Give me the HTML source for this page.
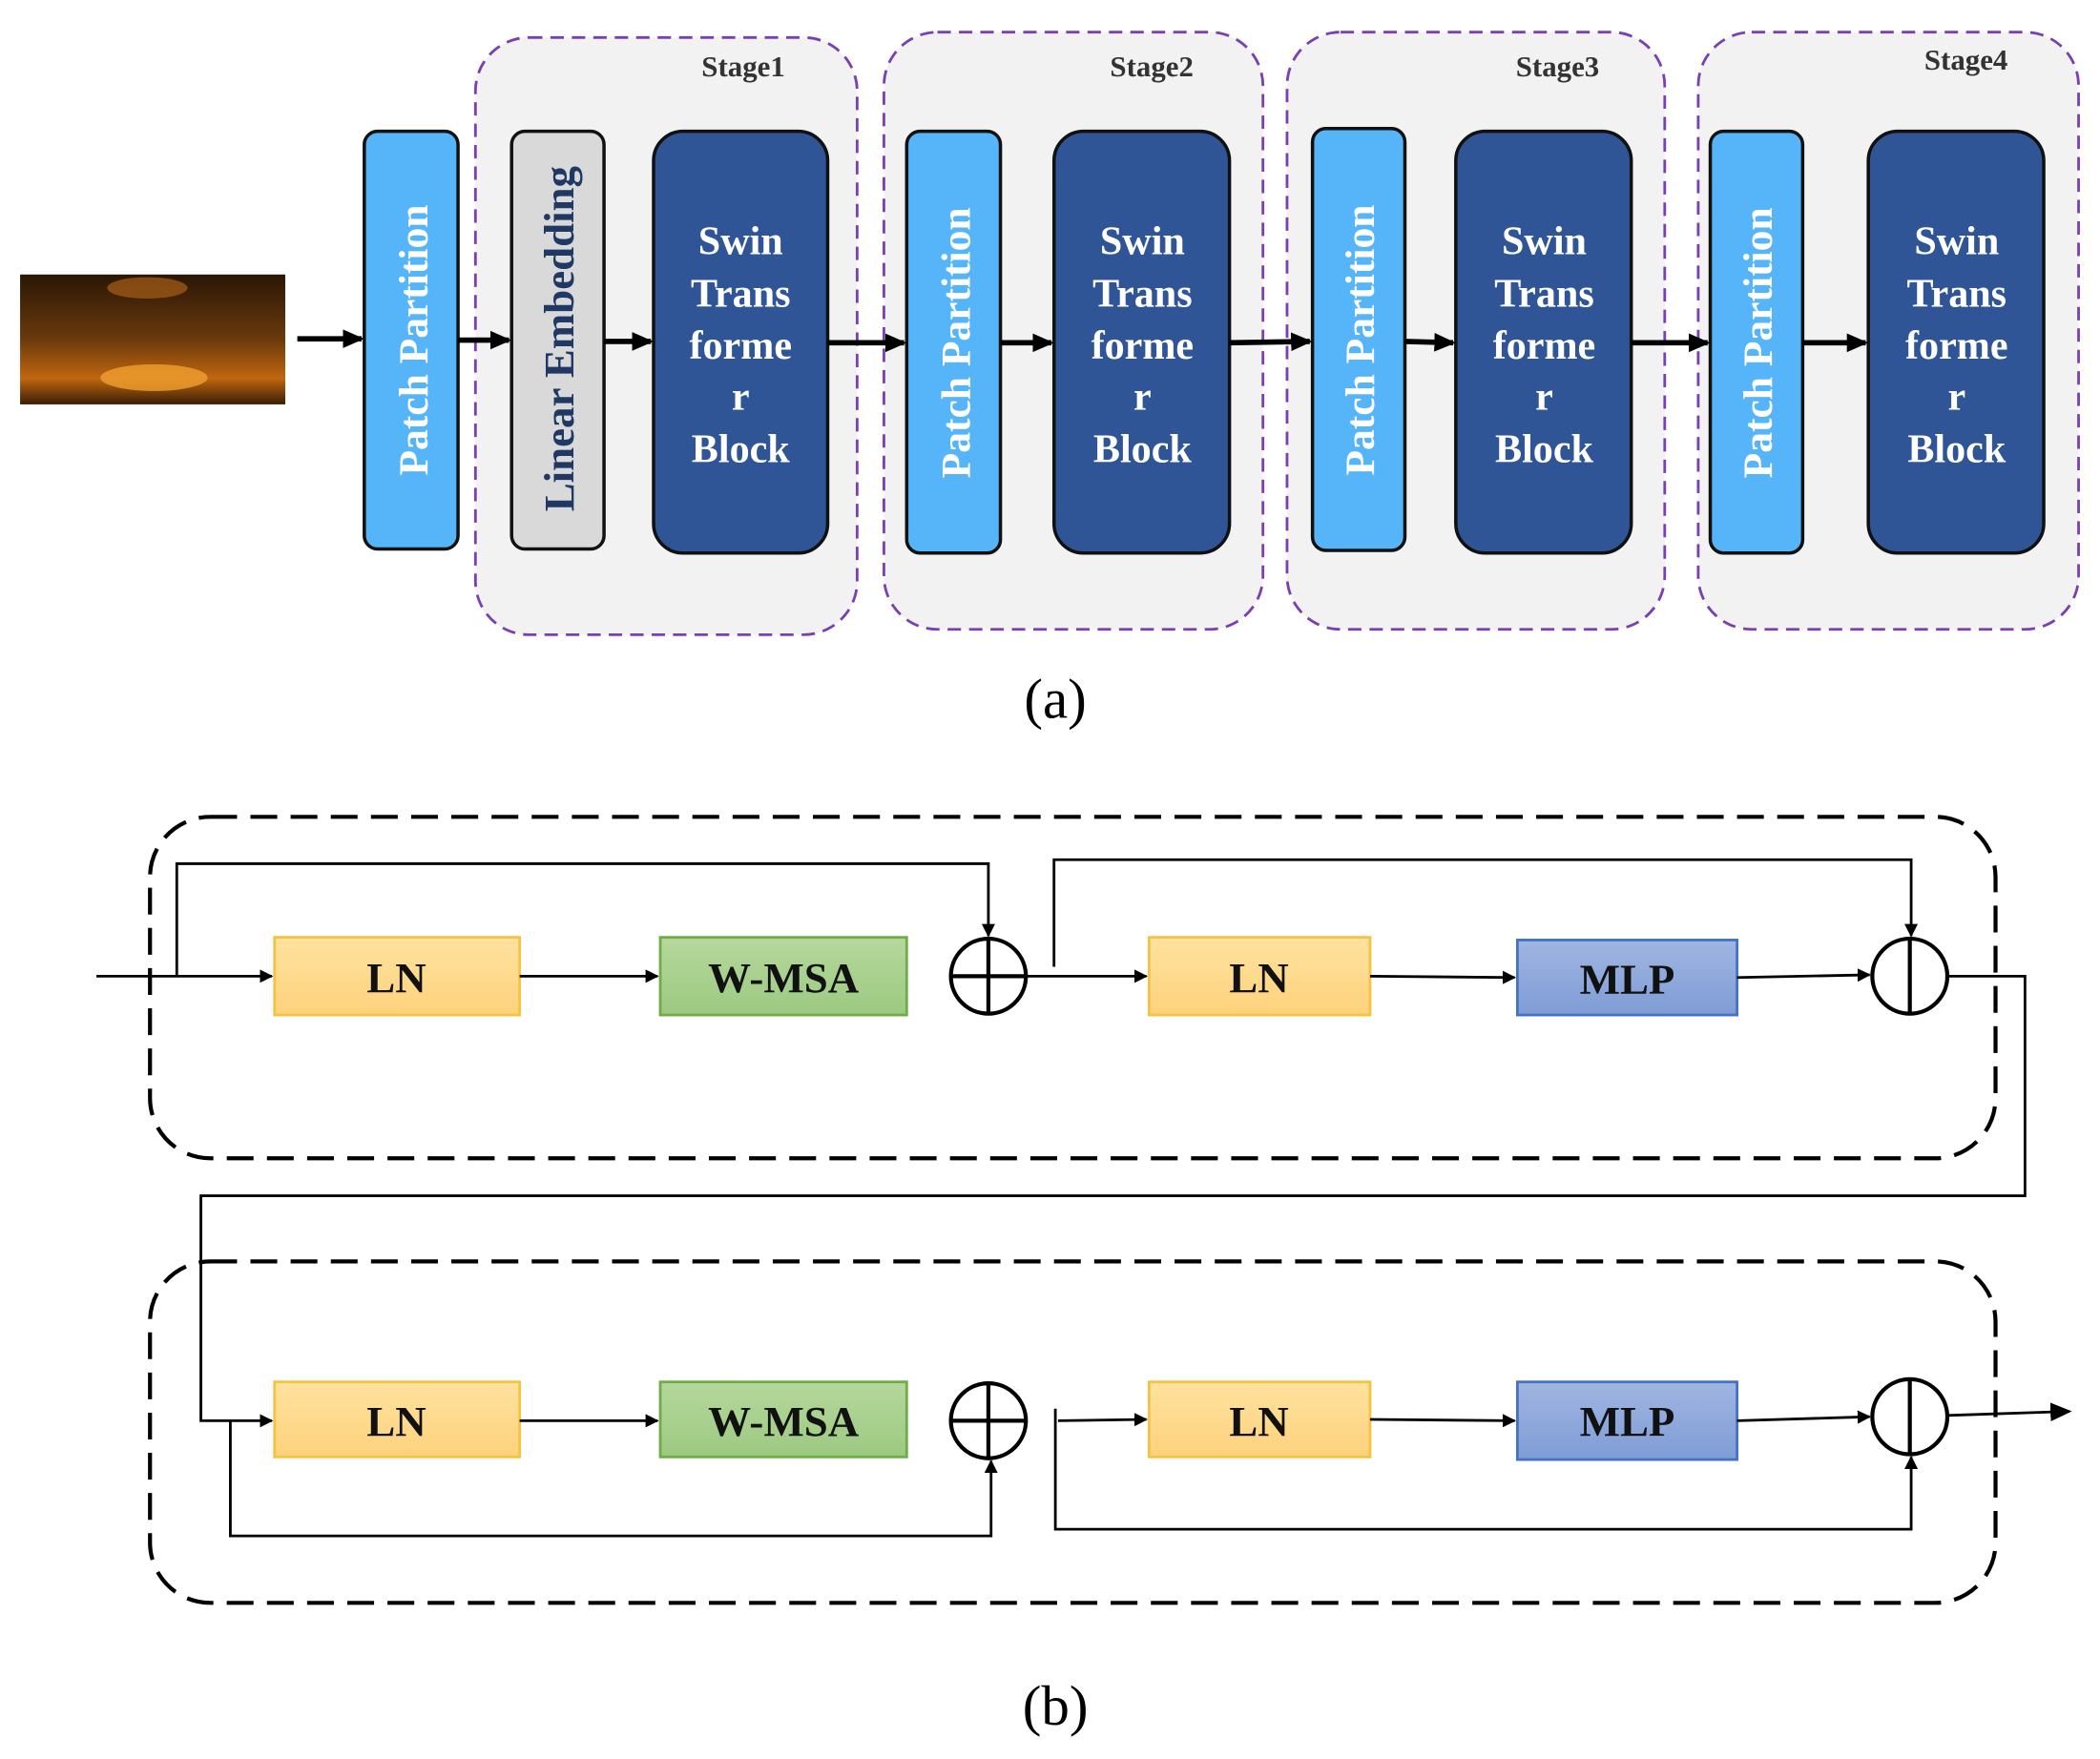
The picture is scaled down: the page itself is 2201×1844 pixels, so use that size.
<!DOCTYPE html>
<html><head><meta charset="utf-8"><style>
html,body{margin:0;padding:0;background:#fff;}
svg{display:block;}
text{font-family:"Liberation Serif",serif;font-weight:bold;}
</style></head><body>
<svg width="2201" height="1844" viewBox="0 0 1568 1313.6" preserveAspectRatio="none" xmlns="http://www.w3.org/2000/svg">
<defs>
<marker id="ah" markerWidth="10" markerHeight="10" refX="9" refY="5" orient="auto" markerUnits="userSpaceOnUse"><path d="M0,0 L10,5 L0,10 z" fill="#000"/></marker>
<marker id="ah2" markerWidth="16" markerHeight="14" refX="14" refY="7" orient="auto" markerUnits="userSpaceOnUse"><path d="M0,0 L16,7 L0,14 z" fill="#000"/></marker>
<linearGradient id="img" x1="0" y1="0" x2="0" y2="1"><stop offset="0" stop-color="#2a1605"/><stop offset="0.5" stop-color="#6b3a0c"/><stop offset="0.8" stop-color="#c0660f"/><stop offset="1" stop-color="#3a1e06"/></linearGradient>
<linearGradient id="ln" x1="0" y1="0" x2="0" y2="1"><stop offset="0" stop-color="#ffe29f"/><stop offset="1" stop-color="#fdd27c"/></linearGradient>
<linearGradient id="wm" x1="0" y1="0" x2="0" y2="1"><stop offset="0" stop-color="#b5d89c"/><stop offset="1" stop-color="#9cc981"/></linearGradient>
<linearGradient id="ml" x1="0" y1="0" x2="0" y2="1"><stop offset="0" stop-color="#a0b6e2"/><stop offset="1" stop-color="#7f9cd6"/></linearGradient>
</defs>

<rect x="15" y="205" width="198" height="97" fill="url(#img)"/>
<ellipse cx="115" cy="282" rx="40" ry="10" fill="#f0a030" opacity="0.8"/>
<ellipse cx="110" cy="215" rx="30" ry="8" fill="#a86018" opacity="0.7"/>
<line x1="222" y1="253" x2="270" y2="253" stroke="#000" stroke-width="4" marker-end="url(#ah2)"/>

<g fill="#f2f2f2" stroke="#7a3fb0" stroke-width="2" stroke-dasharray="10,6">
<rect x="355" y="28" width="285" height="446" rx="40"/>
<rect x="660" y="24" width="283" height="446" rx="40"/>
<rect x="961" y="24" width="282" height="446" rx="40"/>
<rect x="1268" y="24" width="284" height="446" rx="40"/>
</g>
<g font-size="22" fill="#333" text-anchor="middle">
<text x="555" y="57">Stage1</text>
<text x="860" y="57">Stage2</text>
<text x="1163" y="57">Stage3</text>
<text x="1468" y="52">Stage4</text>
</g>

<g fill="#56b4f9" stroke="#111" stroke-width="2.5">
<rect x="272" y="98" width="70" height="312" rx="10"/>
<rect x="677" y="98" width="70" height="315" rx="10"/>
<rect x="980" y="96" width="69" height="315" rx="10"/>
<rect x="1277" y="98" width="69" height="315" rx="10"/>
</g>
<rect x="382" y="98" width="69" height="312" rx="10" fill="#d9d9d9" stroke="#111" stroke-width="2.5"/>
<g font-size="31" fill="#fff" text-anchor="middle">
<text transform="translate(319,254) rotate(-90)">Patch Partition</text>
<text transform="translate(724,256) rotate(-90)">Patch Partition</text>
<text transform="translate(1026,254) rotate(-90)">Patch Partition</text>
<text transform="translate(1323,256) rotate(-90)">Patch Partition</text>
<text transform="translate(428,253) rotate(-90)" fill="#1f3864" font-size="32">Linear Embedding</text>
</g>

<g fill="#2f5597" stroke="#111" stroke-width="2.5">
<rect x="488" y="98" width="130" height="315" rx="22"/>
<rect x="787" y="98" width="131" height="315" rx="22"/>
<rect x="1087" y="98" width="131" height="315" rx="22"/>
<rect x="1395" y="98" width="131" height="315" rx="22"/>
</g>
<g font-size="30" fill="#fff" text-anchor="middle">
<g transform="translate(553,0)"><text y="190">Swin</text><text y="229">Trans</text><text y="268">forme</text><text y="306">r</text><text y="345">Block</text></g>
<g transform="translate(853,0)"><text y="190">Swin</text><text y="229">Trans</text><text y="268">forme</text><text y="306">r</text><text y="345">Block</text></g>
<g transform="translate(1153,0)"><text y="190">Swin</text><text y="229">Trans</text><text y="268">forme</text><text y="306">r</text><text y="345">Block</text></g>
<g transform="translate(1461,0)"><text y="190">Swin</text><text y="229">Trans</text><text y="268">forme</text><text y="306">r</text><text y="345">Block</text></g>
</g>

<g stroke="#000" stroke-width="4">
<line x1="342" y1="254" x2="380" y2="254" marker-end="url(#ah2)"/>
<line x1="451" y1="255" x2="486" y2="255" marker-end="url(#ah2)"/>
<line x1="618" y1="256" x2="675" y2="256" marker-end="url(#ah2)"/>
<line x1="747" y1="256" x2="785" y2="256" marker-end="url(#ah2)"/>
<line x1="918" y1="256" x2="978" y2="255" marker-end="url(#ah2)"/>
<line x1="1049" y1="255" x2="1085" y2="256" marker-end="url(#ah2)"/>
<line x1="1218" y1="256" x2="1275" y2="256" marker-end="url(#ah2)"/>
<line x1="1346" y1="256" x2="1393" y2="256" marker-end="url(#ah2)"/>
</g>
<text x="788" y="536" font-size="42" text-anchor="middle" style="font-weight:normal">(a)</text>

<g fill="none" stroke="#000" stroke-width="3" stroke-dasharray="20,10">
<rect x="112" y="610" width="1378" height="255" rx="45"/>
<rect x="112" y="942" width="1378" height="255" rx="45"/>
</g>

<g stroke-width="2">
<rect x="205" y="700" width="183" height="58" fill="url(#ln)" stroke="#f5c342"/>
<rect x="493" y="700" width="184" height="58" fill="url(#wm)" stroke="#70ad47"/>
<rect x="858" y="700" width="165" height="58" fill="url(#ln)" stroke="#f5c342"/>
<rect x="1133" y="702" width="164" height="56" fill="url(#ml)" stroke="#4472c4"/>
<rect x="205" y="1032" width="183" height="56" fill="url(#ln)" stroke="#f5c342"/>
<rect x="493" y="1032" width="184" height="56" fill="url(#wm)" stroke="#70ad47"/>
<rect x="858" y="1032" width="165" height="56" fill="url(#ln)" stroke="#f5c342"/>
<rect x="1133" y="1032" width="164" height="58" fill="url(#ml)" stroke="#4472c4"/>
</g>
<g font-size="32" fill="#111" text-anchor="middle">
<text x="296" y="741">LN</text><text x="585" y="741">W-MSA</text><text x="940" y="741">LN</text><text x="1215" y="742">MLP</text>
<text x="296" y="1072">LN</text><text x="585" y="1072">W-MSA</text><text x="940" y="1072">LN</text><text x="1215" y="1072">MLP</text>
</g>

<g fill="none" stroke="#000" stroke-width="3">
<circle cx="738" cy="729" r="28"/><line x1="710" y1="729" x2="766" y2="729"/><line x1="738" y1="701" x2="738" y2="757"/>
<circle cx="1426" cy="729" r="28"/><line x1="1426" y1="701" x2="1426" y2="757"/>
<circle cx="738" cy="1061" r="28"/><line x1="710" y1="1061" x2="766" y2="1061"/><line x1="738" y1="1033" x2="738" y2="1089"/>
<circle cx="1426" cy="1058" r="28"/><line x1="1426" y1="1030" x2="1426" y2="1086"/>
</g>

<g fill="none" stroke="#000" stroke-width="2">
<line x1="72" y1="729" x2="203" y2="729" marker-end="url(#ah)"/>
<polyline points="132,729 132,645 738,645 738,699" marker-end="url(#ah)"/>
<line x1="388" y1="729" x2="491" y2="729" marker-end="url(#ah)"/>
<line x1="766" y1="729" x2="856" y2="729" marker-end="url(#ah)"/>
<polyline points="787,722 787,642 1427,642 1427,699" marker-end="url(#ah)"/>
<line x1="1023" y1="729" x2="1131" y2="730" marker-end="url(#ah)"/>
<line x1="1297" y1="730" x2="1396" y2="728" marker-end="url(#ah)"/>
<polyline points="1454,729 1512,729 1512,893 150,893 150,1061 203,1061" marker-end="url(#ah)"/>
<polyline points="172,1061 172,1147 740,1147 740,1091" marker-end="url(#ah)"/>
<line x1="388" y1="1061" x2="491" y2="1061" marker-end="url(#ah)"/>
<line x1="790" y1="1061" x2="856" y2="1060" marker-end="url(#ah)"/>
<polyline points="788,1052 788,1142 1427,1142 1427,1088" marker-end="url(#ah)"/>
<line x1="1023" y1="1060" x2="1131" y2="1061" marker-end="url(#ah)"/>
<line x1="1297" y1="1061" x2="1396" y2="1058" marker-end="url(#ah)"/>
<line x1="1454" y1="1057" x2="1545" y2="1054" marker-end="url(#ah2)"/>
</g>
<text x="788" y="1288" font-size="42" text-anchor="middle" style="font-weight:normal">(b)</text>
</svg>
</body></html>
